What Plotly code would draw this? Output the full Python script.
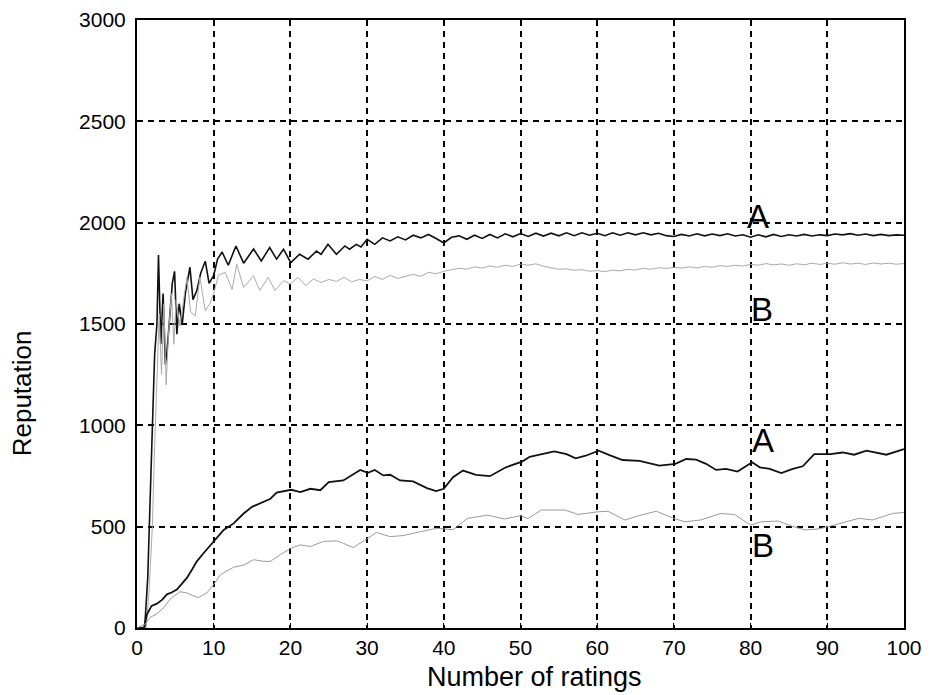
import plotly.graph_objects as go

# ---- Data ----
x_upper_a = [0, 1.0, 1.4, 1.7, 2.0, 2.3, 2.6, 2.8, 3.1, 3.4, 3.7, 3.9, 4.2, 4.6, 4.9, 5.2, 5.5, 5.9,
             6.3, 6.9, 7.3, 7.8, 8.3, 8.9, 9.4, 10.0, 10.5, 11.1, 11.9, 12.9, 13.9, 15.2, 16.2, 17.3,
             18.2, 19.1, 20.05, 21.2, 22.3, 23.4, 24.0, 24.9, 26.0, 27.1, 27.7, 28.6, 29.2,
             30, 31, 32, 33, 34, 35, 36, 37, 38, 39, 40, 41, 42, 43, 44, 45, 46, 47, 48, 49, 50,
             51, 52, 53, 54, 55, 56, 57, 58, 59, 60, 61, 62, 63, 64, 65, 66, 67, 68, 69, 70,
             71, 72, 73, 74, 75, 76, 77, 78, 79, 80, 81, 82, 83, 84, 85, 86, 87, 88, 89, 90,
             91, 92, 93, 94, 95, 96, 97, 98, 99, 100]
y_upper_a = [0, 0, 250, 600, 1000, 1350, 1500, 1840, 1400, 1650, 1300, 1360, 1500, 1700, 1760, 1450,
             1600, 1500, 1650, 1780, 1620, 1665, 1750, 1810, 1700, 1740, 1820, 1855, 1790, 1885,
             1800, 1870, 1811, 1877, 1820, 1869, 1803, 1844, 1820, 1860, 1844, 1893, 1844, 1885,
             1869, 1893, 1880,
             1918, 1893, 1925, 1910, 1930, 1915, 1938, 1925, 1942, 1922, 1900, 1928, 1935, 1918,
             1938, 1922, 1942, 1925, 1945, 1930, 1946, 1932, 1948, 1934, 1948, 1935, 1950, 1936,
             1950, 1938, 1948, 1936, 1950, 1938, 1950, 1940, 1950, 1940, 1948, 1936, 1932, 1942,
             1934, 1945, 1935, 1944, 1936, 1945, 1934, 1940, 1928, 1940, 1930, 1942, 1932, 1940,
             1934, 1942, 1934, 1940, 1936, 1944, 1940, 1946, 1938, 1944, 1936, 1942, 1936, 1940,
             1938]

x_upper_b = [0, 1.2, 1.6, 2.0, 2.3, 2.6, 2.9, 3.2, 3.5, 3.8, 4.1, 4.5, 4.8, 5.1, 5.6, 6.0, 6.5, 7.0,
             7.6, 8.2, 8.9, 9.5, 10.0, 10.6, 11.5, 12.4, 13.0, 13.9, 15.2, 16.0, 17.1, 18.0, 19.1,
             20, 21, 22, 23, 24, 25, 26, 27, 28, 29, 30, 31, 32, 33, 34, 35, 36, 37, 38, 39, 40,
             41, 42, 43, 44, 45, 46, 47, 48, 49, 50, 51, 52, 53, 54, 55, 56, 57, 58, 59, 60,
             61, 62, 63, 64, 65, 66, 67, 68, 69, 70, 71, 72, 73, 74, 75, 76, 77, 78, 79, 80,
             81, 82, 83, 84, 85, 86, 87, 88, 89, 90, 91, 92, 93, 94, 95, 96, 97, 98, 99, 100]
y_upper_b = [0, 0, 200, 500, 900, 1200, 1550, 1250, 1600, 1200, 1450, 1650, 1400, 1620, 1490, 1600,
             1730, 1560, 1540, 1730, 1565, 1600, 1650, 1740, 1755, 1670, 1795, 1680, 1738, 1665,
             1730, 1665, 1714,
             1698, 1730, 1690, 1722, 1705, 1720, 1710, 1730, 1708, 1720, 1712, 1735, 1720, 1740,
             1725, 1735, 1745, 1735, 1755, 1748, 1760,
             1768, 1775, 1770, 1782, 1776, 1786, 1780, 1790, 1784, 1795, 1790, 1797, 1785, 1778,
             1770, 1772, 1765, 1768, 1760, 1764, 1758, 1766, 1762, 1770, 1766, 1775, 1770, 1778,
             1774, 1780, 1776, 1782, 1777, 1784, 1780, 1788, 1784, 1790, 1786, 1794, 1790, 1798,
             1792, 1796, 1790, 1797, 1792, 1800, 1794, 1800, 1795, 1802, 1796, 1800, 1794, 1801,
             1796, 1800, 1795, 1798]

x_lower_a = [0, 0.9, 1.3, 1.9, 2.6, 3.3, 3.9, 4.5, 5.2, 5.8, 6.5, 7.2, 7.8, 8.7, 10, 11.3, 12.6,
             13.9, 15, 16.5, 17.4, 18.2, 19.2, 20.1, 21.3, 22.6, 23.9, 25, 26.9, 28, 29.1, 30.1,
             31, 32.1, 33, 34.3, 36, 37.8, 39, 40, 41.2, 42.5, 44.2, 46, 48.1, 50.2, 51.2, 52.5,
             54.4, 56, 57.2, 58.5, 60.2, 61.6, 63.3, 65.5, 68.1, 70.2, 71.6, 72.9, 74.2, 75.5,
             76.8, 78.3, 80.2, 81.2, 82.5, 84, 85.5, 86.8, 88.3, 90.4, 92, 93.5, 95.1, 97.7, 100]
y_lower_a = [0, 0, 68, 109, 120, 140, 166, 175, 190, 215, 247, 290, 329, 370, 427, 484, 516,
             565, 598, 622, 638, 668, 675, 682, 671, 687, 680, 720, 728, 753, 780, 766,
             780, 753, 756, 728, 723, 690, 676, 687, 744, 777, 756, 749, 793, 821, 845, 855,
             871, 858, 837, 850, 875, 853, 829, 825, 801, 810, 834, 831, 810, 780,
             785, 772, 818, 793, 785, 764, 785, 798, 858, 858, 866, 855, 875, 855, 883]

x_lower_b = [0, 1.1, 1.7, 2.6, 3.5, 4.3, 5.6, 6.5, 7.3, 8, 9.1, 10, 10.9, 12.6, 13.9, 15.2, 16.5,
             17.4, 18.7, 20.1, 21.3, 22.6, 24.3, 26, 26.9, 28.2, 30.1, 31.2, 33, 34.7, 36.9, 39.1,
             40, 41.2, 43.1, 45.7, 47.9, 50, 51, 52.7, 55.8, 57.5, 60, 61.4, 63.6, 65.7, 67.7,
             70, 71.4, 73.5, 76.1, 77.9, 80, 81.4, 83.6, 85.4, 87.1, 88.9, 90.3, 92.4, 94.1,
             95.9, 98.5, 100]
y_lower_b = [0, 20, 52, 70, 101, 142, 179, 173, 160, 150, 173, 215, 264, 300, 310, 337, 329,
             329, 362, 394, 410, 402, 427, 430, 418, 397, 443, 471, 451, 456, 475, 492,
             489, 485, 541, 557, 538, 554, 540, 582, 582, 560, 573, 576, 533, 557, 576,
             541, 524, 533, 565, 560, 508, 524, 528, 502, 484, 489, 502, 524, 541,
             533, 565, 570]

x_ticks = [0, 10, 20, 30, 40, 50, 60, 70, 80, 90, 100]
y_ticks = [0, 500, 1000, 1500, 2000, 2500, 3000]

label_text = ["A", "B", "A", "B"]
label_x = [81.0, 81.5, 81.6, 81.6]
label_y = [2030, 1570, 925, 405]

x_title = "Number of ratings"
y_title = "Reputation"

FONT = "Liberation Sans, Arial, Helvetica, sans-serif"
DARK = "#111111"
GRAY = "#9a9a9a"
LIGHT_GRAY = "#aaaaaa"

fig = go.Figure()
fig.add_trace(go.Scatter(x=x_upper_a, y=y_upper_a, mode="lines",
                         line=dict(color=DARK, width=1.6), showlegend=False))
fig.add_trace(go.Scatter(x=x_upper_b, y=y_upper_b, mode="lines",
                         line=dict(color=LIGHT_GRAY, width=1.0), showlegend=False))
fig.add_trace(go.Scatter(x=x_lower_a, y=y_lower_a, mode="lines",
                         line=dict(color=DARK, width=1.8), showlegend=False))
fig.add_trace(go.Scatter(x=x_lower_b, y=y_lower_b, mode="lines",
                         line=dict(color=GRAY, width=1.0), showlegend=False))

for t, xx, yy in zip(label_text, label_x, label_y):
    fig.add_annotation(x=xx, y=yy, text=t, showarrow=False,
                       font=dict(family=FONT, size=33, color="black"))

# axis titles as annotations for exact placement
fig.add_annotation(xref="paper", yref="paper", x=0.518, y=0, yshift=-49,
                   text=x_title, showarrow=False, xanchor="center", yanchor="middle",
                   font=dict(family=FONT, size=27, color="black"))
fig.add_annotation(xref="paper", yref="paper", x=0, y=0.386, xshift=-115,
                   text=y_title, showarrow=False, textangle=-90,
                   xanchor="center", yanchor="middle",
                   font=dict(family=FONT, size=26, color="black"))

axis_common = dict(
    showline=True, linecolor="black", linewidth=2, mirror=True,
    showgrid=True, gridcolor="black", gridwidth=1.5, griddash="6px,5px",
    zeroline=False, ticks="inside", ticklen=5, tickcolor="black",
    tickfont=dict(family=FONT, size=21, color="black"),
    automargin=False, ticklabeloverflow="allow",
)

fig.update_xaxes(range=[0, 100], tickvals=x_ticks, ticktext=[str(v) for v in x_ticks],
                 **axis_common)
fig.update_yaxes(range=[0, 3000], tickvals=y_ticks, ticktext=[str(v) for v in y_ticks],
                 ticklabelstandoff=5, **axis_common)

# page body has an 8px margin: figure is sized/offset to put the plot area at the reference position
fig.update_layout(
    width=927, height=687,
    margin=dict(l=129, r=31, t=12, b=67),
    paper_bgcolor="white", plot_bgcolor="white",
    font=dict(family=FONT, color="black"),
)

fig.write_html("out.html")
